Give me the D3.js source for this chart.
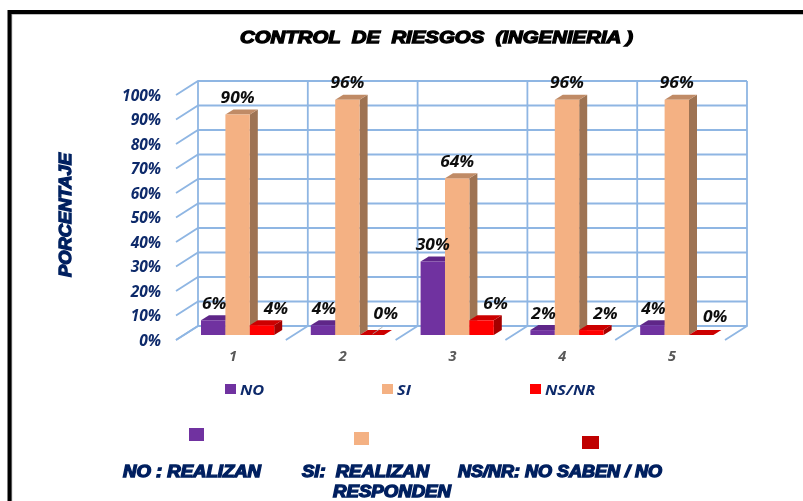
<!DOCTYPE html>
<html><head><meta charset="utf-8">
<script src="https://cdn.jsdelivr.net/npm/d3@7"></script>
<style>html,body{margin:0;padding:0;background:#fff}svg{display:block}</style></head>
<body><svg id="c" width="803" height="501"></svg>
<script>
const categories = ["1","2","3","4","5"];
const seriesNames = ["NO","SI","NS/NR"];
const noValues = [6,4,30,2,4];
const siValues = [90,96,64,96,96];
const nsValues = [4,0,6,2,0];
const yTicks = [0,10,20,30,40,50,60,70,80,90,100];
const title = "CONTROL  DE  RIESGOS  (INGENIERIA )";
const yTitle = "PORCENTAJE";

const values = {"NO":noValues,"SI":siValues,"NS/NR":nsValues};
const fills = {"NO":["#7030A0","#5E2888","#542478"],"SI":["#F4B183","#C08B66","#9E7352"],"NS/NR":["#FF0000","#CC0000","#A50000"]};
const NAVY="#0F2A6B", HEAVY="#002060";
const FONT="'Open Sans',sans-serif", HFONT="'Liberation Sans',sans-serif";
const svg=d3.select("#c");
const defs=svg.append("defs");
defs.append("filter").attr("id","soft").attr("x","-5%").attr("y","-5%").attr("width","110%").attr("height","110%")
  .append("feGaussianBlur").attr("stdDeviation",0.45);

// frame
svg.append("path").attr("d","M11.5 501V14H803").attr("fill","none").attr("stroke","#aaa").attr("stroke-width",1.5);
svg.append("path").attr("d","M9.5 501V12H803").attr("fill","none").attr("stroke","#000").attr("stroke-width",4);

const root=svg.append("g").attr("filter","url(#soft)");
const xF=d3.scaleBand().domain(categories).range([176,725]);
const yF=d3.scaleLinear().domain([0,100]).range([340,95]);
const wallDx=22, wallDy=14, depthX=8, depthY=5, barLift=5;
const x1=d3.scaleBand().domain(seriesNames).range([25,98.2]);
const bars=v=>yF(v)-barLift;
const stretch=(sel,k)=>sel.each(function(){
  const n=d3.select(this);
  n.attr("textLength",this.getComputedTextLength()*k).attr("lengthAdjust","spacingAndGlyphs");
});

// grid
const grid=root.append("g").attr("fill","none").attr("stroke","#8FB6E3").attr("stroke-width",1.8);
const edges=[...categories.map(c=>xF(c)),xF.range()[1]];
yTicks.forEach(t=>{
  grid.append("path").attr("d",d3.line()([[xF.range()[0],yF(t)],[xF.range()[0]+wallDx,yF(t)-wallDy],[xF.range()[1]+wallDx,yF(t)-wallDy]]));
});
edges.forEach(e=>{
  grid.append("path").attr("d",d3.line()([[e,yF(0)],[e+wallDx,yF(0)-wallDy],[e+wallDx,yF(100)-wallDy]]));
});

// bars
categories.forEach((c,i)=>{
  const g=root.append("g");
  seriesNames.forEach(s=>{
    const v=values[s][i], x=xF(c)+x1(s), w=x1.bandwidth(), top=bars(v), base=bars(0);
    const f=fills[s];
    g.append("path").attr("fill",f[2]).attr("d",`M${x+w} ${top}l${depthX} ${-depthY}V${base-depthY}l${-depthX} ${depthY}Z`);
    g.append("path").attr("fill",f[1]).attr("d",`M${x} ${top}l${depthX} ${-depthY}h${w}l${-depthX} ${depthY}Z`);
    g.append("rect").attr("x",x).attr("y",top).attr("width",w).attr("height",base-top).attr("fill",f[0]);
  });
});
// leader of the 0% label in group 2
root.append("line").attr("x1",xF("2")+x1("NS/NR")+13).attr("y1",bars(0)-1).attr("x2",xF("2")+x1("NS/NR")+23).attr("y2",bars(0)-8).attr("stroke","#aaa").attr("stroke-width",0.8);

// axes
const yAxis=d3.axisLeft(yF).tickValues(yTicks).tickFormat(d=>d+"%").tickSize(0).tickPadding(15);
const ya=root.append("g").attr("transform",`translate(${xF.range()[0]},0.5)`).call(yAxis);
ya.select(".domain").remove();
ya.selectAll("text").attr("font-family",FONT).attr("font-size",15.5).attr("font-weight","bold").attr("font-style","italic").attr("fill",NAVY);
const xAxis=d3.axisBottom(xF).tickSize(0).tickPadding(11);
const xa=root.append("g").attr("transform",`translate(2,${yF(0)})`).call(xAxis);
xa.select(".domain").remove();
xa.selectAll("text").attr("font-family",FONT).attr("font-size",14.5).attr("font-weight","bold").attr("font-style","italic").attr("fill","#595959");

// data labels
const labelDx={"NO":0,"SI":0,"NS/NR":14};
seriesNames.forEach(s=>{
  values[s].forEach((v,i)=>{
    const c=categories[i];
    const zero=v===0;
    root.append("text").text(v+"%")
      .attr("x",xF(c)+x1(s)+x1.bandwidth()/2+labelDx[s]+(s==="NO"&&v<10?1:0))
      .attr("y",bars(v)-17-(zero?(i===1?4:1):0)).attr("dy","0.35em")
      .attr("text-anchor","middle").attr("font-family",FONT).attr("font-size",15.5)
      .attr("font-weight","bold").attr("font-style","italic").attr("fill","#111")
      .call(stretch,1.12);
  });
});

// legend
const legX=d3.scaleOrdinal().domain(seriesNames).range([225,382,530]);
seriesNames.forEach(s=>{
  root.append("rect").attr("x",legX(s)).attr("y",384).attr("width",11).attr("height",10).attr("fill",fills[s][0]);
  root.append("text").text(s).attr("x",legX(s)+15).attr("y",390).attr("dy","0.35em")
    .attr("font-family",FONT).attr("font-size",15).attr("font-weight","bold").attr("font-style","italic").attr("fill",NAVY)
    .call(stretch,1.09);
});

// second key
[[189,428,15,13,"#7030A0"],[354,432,15,13,"#F4B183"],[582,436,17,13,"#C00000"]].forEach(r=>{
  root.append("rect").attr("x",r[0]).attr("y",r[1]).attr("width",r[2]).attr("height",r[3]).attr("fill",r[4]);
});

// heavy text
function heavy(t,x,y,len,col,size,rot){
  const e=root.append("text").text(t).attr("xml:space","preserve").style("white-space","pre")
    .attr("font-family",HFONT).attr("font-size",size).attr("font-weight","bold").attr("font-style","italic")
    .attr("fill",col).attr("stroke",col).attr("stroke-width",1.3).attr("dy","0.35em")
    .attr("textLength",len).attr("lengthAdjust","spacingAndGlyphs");
  if(rot) e.attr("text-anchor","middle").attr("transform",`translate(${x},${y}) rotate(-90)`);
  else e.attr("x",x).attr("y",y);
}
heavy(title,240,37,393,"#000",17);
heavy(yTitle,65,215,124,HEAVY,17,true);
heavy("NO : REALIZAN",123,471,138,HEAVY,16);
heavy("SI:  REALIZAN",302,471,127,HEAVY,16);
heavy("NS/NR: NO SABEN / NO",458,471,204,HEAVY,16);
heavy("RESPONDEN",333,491,118,HEAVY,16);
</script></body></html>
